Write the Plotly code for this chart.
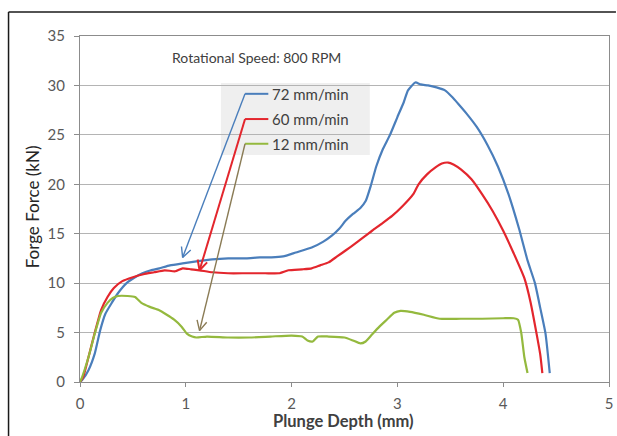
import math
import plotly.graph_objects as go

# ---------------- data ----------------
blue_x = [0, 0.02, 0.08, 0.14, 0.19, 0.24, 0.3, 0.36, 0.44, 0.52, 0.59, 0.67, 0.75, 0.85, 0.97, 1.1,
          1.25, 1.4, 1.57, 1.7, 1.81, 1.92, 2.04, 2.19, 2.3, 2.38, 2.45, 2.51, 2.58, 2.65, 2.7, 2.75,
          2.8, 2.86, 2.93, 3.0, 3.06, 3.1, 3.17, 3.22, 3.29, 3.37, 3.45, 3.52, 3.57, 3.65, 3.75, 3.85,
          3.95, 4.05, 4.15, 4.23, 4.3, 4.35, 4.4, 4.44]
blue_y = [0, 0.2, 1.2, 2.9, 5.2, 6.9, 8.0, 9.0, 10.0, 10.6, 11.0, 11.3, 11.5, 11.8, 12.0, 12.2,
          12.4, 12.5, 12.5, 12.6, 12.6, 12.7, 13.1, 13.6, 14.2, 14.8, 15.5, 16.3, 17.0, 17.6, 18.3, 19.9,
          21.8, 23.5, 25.0, 26.8, 28.3, 29.5, 30.3, 30.1, 30.0, 29.8, 29.5, 28.8, 28.2, 27.2, 25.8, 24.0,
          21.8, 19.0, 15.5, 12.3, 10.0, 7.5, 4.9, 0.9]

red_x = [0, 0.03, 0.08, 0.14, 0.2, 0.26, 0.32, 0.4, 0.5, 0.6, 0.7, 0.8, 0.9, 0.97, 1.05, 1.13,
         1.25, 1.4, 1.57, 1.75, 1.88, 1.97, 2.1, 2.19, 2.27, 2.35, 2.43, 2.51, 2.6, 2.7, 2.76, 2.85,
         2.95, 3.05, 3.15, 3.2, 3.28, 3.36, 3.42, 3.48, 3.53, 3.6, 3.7, 3.8, 3.9, 4.0, 4.1, 4.2,
         4.26, 4.31, 4.35, 4.37]
red_y = [0, 0.5, 2.5, 5.0, 7.3, 8.6, 9.5, 10.2, 10.6, 10.9, 11.1, 11.3, 11.2, 11.5, 11.4, 11.3,
         11.1, 11.0, 11.0, 11.0, 11.0, 11.3, 11.4, 11.5, 11.8, 12.1, 12.7, 13.3, 14.0, 14.8, 15.3, 16.0,
         16.8, 17.8, 19.0, 20.0, 21.0, 21.7, 22.1, 22.2, 22.0, 21.5, 20.5, 19.0, 17.3, 15.3, 13.0, 10.5,
         8.0, 5.2, 2.8, 0.9]

green_x = [0, 0.02, 0.08, 0.14, 0.2, 0.26, 0.31, 0.36, 0.45, 0.52, 0.58, 0.66, 0.74, 0.82, 0.89, 0.96,
           1.01, 1.06, 1.1, 1.2, 1.4, 1.6, 1.8, 2.0, 2.1, 2.15, 2.2, 2.25, 2.35, 2.5, 2.58, 2.65,
           2.7, 2.76, 2.83, 2.9, 2.97, 3.03, 3.12, 3.25, 3.4, 3.6, 3.8, 4.0, 4.1, 4.14, 4.17, 4.2, 4.23]
green_y = [0, 0.5, 2.5, 4.9, 7.0, 8.0, 8.5, 8.7, 8.7, 8.6, 8.0, 7.6, 7.3, 6.8, 6.3, 5.6,
           4.9, 4.6, 4.5, 4.6, 4.5, 4.5, 4.6, 4.7, 4.6, 4.2, 4.1, 4.6, 4.6, 4.5, 4.2, 3.9,
           4.1, 4.8, 5.6, 6.3, 7.0, 7.2, 7.1, 6.8, 6.4, 6.4, 6.4, 6.45, 6.45, 6.3, 5.0, 2.5, 0.9]

series_names = ["72 mm/min", "60 mm/min", "12 mm/min"]
series_colors = ["#4a7ebb", "#e3262d", "#94b93e"]
leader_colors = ["#4a7ebb", "#e3262d", "#8a7b55"]

# callout positions (data units): label row y, elbow x, arrow tip
label_rows_y = [29.15, 26.6, 24.1]
elbow_x = 1.56
seg_end_x = 1.78
tip_x = [0.97, 1.13, 1.13]
tip_y = [12.6, 11.3, 5.2]

x_ticks = [0, 1, 2, 3, 4, 5]
y_ticks = [0, 5, 10, 15, 20, 25, 30, 35]

# ---------------- layout geometry ----------------
W, H = 617, 436
L, R, T, B = 80, 4, 36, 54
pw, ph = W - L - R, H - T - B
sx = pw / 5.0
sy = ph / 35.0

FONT = "Lato"

fig = go.Figure()
for xs, ys, n, c in zip([blue_x, red_x, green_x], [blue_y, red_y, green_y], series_names, series_colors):
    fig.add_trace(go.Scatter(x=xs, y=ys, mode="lines", name=n,
                             line=dict(color=c, width=2.2, shape="spline", smoothing=0.5),
                             showlegend=False, hoverinfo="skip"))

annotations = []
shapes = []


def px2paper_x(px):
    return (px - L) / pw


def py2paper_y(py):
    return (H - B - py) / ph


# callout box
shapes.append(dict(type="rect", xref="paper", yref="paper",
                   x0=px2paper_x(222), x1=px2paper_x(372), y0=py2paper_y(155), y1=py2paper_y(83),
                   fillcolor="#efefef", line=dict(width=0), layer="between"))

for i in range(3):
    ly = label_rows_y[i]
    fig.add_trace(go.Scatter(x=[seg_end_x, elbow_x], y=[ly, ly], mode="lines",
                             line=dict(color=series_colors[i], width=2),
                             showlegend=False, hoverinfo="skip"))
    lw = 2 if i == 1 else 1.4
    fig.add_trace(go.Scatter(x=[elbow_x, tip_x[i]], y=[ly, tip_y[i]], mode="lines",
                             line=dict(color=leader_colors[i], width=lw),
                             showlegend=False, hoverinfo="skip"))
    dxp = (tip_x[i] - elbow_x) * sx
    dyp = -(tip_y[i] - ly) * sy
    ang = math.atan2(dyp, dxp)
    arm = 11
    hx, hy = [], []
    for s in (1, -1):
        a = ang + math.pi + s * math.radians(27)
        hx.append(tip_x[i] + arm * math.cos(a) / sx)
        hy.append(tip_y[i] - arm * math.sin(a) / sy)
    fig.add_trace(go.Scatter(x=[hx[0], tip_x[i], hx[1]], y=[hy[0], tip_y[i], hy[1]], mode="lines",
                             line=dict(color=leader_colors[i], width=lw),
                             showlegend=False, hoverinfo="skip"))
    annotations.append(dict(x=seg_end_x + 0.02, y=ly, xref="x", yref="y", text=series_names[i],
                            showarrow=False, xanchor="left", yanchor="middle",
                            font=dict(family=FONT, size=15, color="#404040")))

annotations.append(dict(x=px2paper_x(171), y=py2paper_y(57), xref="paper", yref="paper",
                        text="Rotational Speed: 800 RPM", showarrow=False, xanchor="left",
                        yanchor="middle", font=dict(family=FONT, size=14, color="#404040")))
annotations.append(dict(x=px2paper_x(345), y=py2paper_y(421), xref="paper", yref="paper",
                        text="<b>Plunge Depth (mm)</b>", showarrow=False, xanchor="center",
                        yanchor="middle", font=dict(family=FONT, size=16.5, color="#404040")))
annotations.append(dict(x=px2paper_x(33), y=py2paper_y(207), xref="paper", yref="paper",
                        text="Forge Force (kN)", showarrow=False, xanchor="center", textangle=-90,
                        yanchor="middle", font=dict(family=FONT, size=17, color="#262626")))

# outer frame (black) at left and top
fx = px2paper_x(8)
fy = py2paper_y(12)
shapes.append(dict(type="line", xref="paper", yref="paper", x0=fx, x1=fx, y0=fy, y1=py2paper_y(440),
                   line=dict(color="#1a1a1a", width=1.5), layer="above"))
shapes.append(dict(type="line", xref="paper", yref="paper", x0=fx, x1=px2paper_x(620), y0=fy, y1=fy,
                   line=dict(color="#1a1a1a", width=1.5), layer="above"))

fig.update_layout(
    width=W, height=H,
    margin=dict(l=L, r=R, t=T, b=B, pad=0),
    paper_bgcolor="white", plot_bgcolor="white",
    showlegend=False,
    annotations=annotations, shapes=shapes,
    font=dict(family=FONT),
)
fig.update_xaxes(range=[0, 5], tickvals=x_ticks, ticks="outside", ticklen=4, tickcolor="#8c8c8c",
                 showline=True, linecolor="#8c8c8c", linewidth=1, mirror=True, showgrid=False,
                 zeroline=False, ticklabelstandoff=4, ticklabeloverflow="allow",
                 tickfont=dict(family=FONT, size=15, color="#595959"))
fig.update_yaxes(range=[0, 35], tickvals=y_ticks, ticks="outside", ticklen=5, tickcolor="#8c8c8c",
                 showline=True, linecolor="#8c8c8c", linewidth=1, mirror=True, showgrid=True,
                 gridcolor="#b4b4b4", gridwidth=1.3, zeroline=False, ticklabelstandoff=6,
                 tickfont=dict(family=FONT, size=15, color="#595959"))

fig.write_html("out.html")
